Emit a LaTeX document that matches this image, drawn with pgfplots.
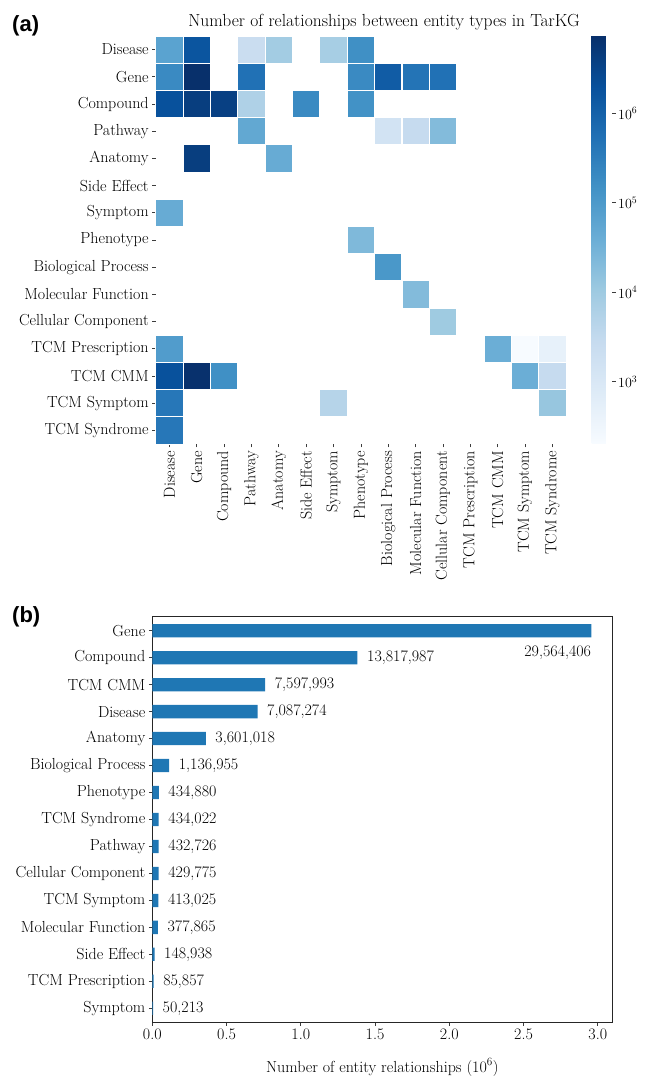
\documentclass[border=0pt]{standalone}
\usepackage{fontspec}
\usepackage{pgfplots}
\pgfplotsset{compat=1.18}
\usepackage{pgfplotstable}
\newfontfamily\panelfont{Liberation Sans}
\definecolor{tabblue}{RGB}{31,119,180}
\definecolor{tickgray}{RGB}{60,60,60}
\newcommand{\lblfont}{\fontsize{16bp}{19bp}\selectfont}
\newcommand{\cbfont}{\fontsize{14bp}{16bp}\selectfont}

\pgfplotstableread{
c r v
0 0 66000
1 0 1660000
3 0 2300
4 0 8900
6 0 7900
7 0 158000
0 1 200000
1 1 7310000
3 1 525000
7 1 200000
8 1 1260000
9 1 480000
10 1 525000
0 2 1950000
1 2 4270000
2 2 3890000
3 2 5900
5 2 200000
7 2 145000
3 3 52000
8 3 1500
9 3 2800
10 3 21000
1 4 4270000
4 4 44000
0 6 44000
7 7 23000
8 8 110000
9 9 21000
10 10 10000
0 11 89000
12 11 39000
13 11 205
14 11 480
0 12 1950000
1 12 7000000
2 12 158000
13 12 39000
14 12 2800
0 13 427000
6 13 4800
14 13 12600
0 14 427000
}\heat

\pgfplotstableread{
y n lab
0 29564406 29,564,406
1 13817987 13,817,987
2 7597993 7,597,993
3 7087274 7,087,274
4 3601018 3,601,018
5 1136955 1,136,955
6 434880 434,880
7 434022 434,022
8 432726 432,726
9 429775 429,775
10 413025 413,025
11 377865 377,865
12 148938 148,938
13 85857 85,857
14 50213 50,213
}\bars

\begin{document}
\begin{tikzpicture}
\path[use as bounding box] (0,0) rectangle (645bp,1076bp);

\begin{axis}[
  at={(155.7bp,1040bp)}, anchor=north west,
  scale only axis, width=410.3bp, height=408bp,
  xmin=-0.5, xmax=14.5, ymin=-0.5, ymax=14.5,
  y dir=reverse,
  axis line style={draw=none},
  tick align=outside, tick pos=left,
  major tick length=3.5bp,
  tick style={tickgray, line width=0.6bp},
  xtick={0,...,14}, ytick={0,...,14},
  xticklabels={Disease,Gene,Compound,Pathway,Anatomy,Side Effect,Symptom,Phenotype,Biological Process,Molecular Function,Cellular Component,TCM Prescription,TCM CMM,TCM Symptom,TCM Syndrome},
  yticklabels={Disease,Gene,Compound,Pathway,Anatomy,Side Effect,Symptom,Phenotype,Biological Process,Molecular Function,Cellular Component,TCM Prescription,TCM CMM,TCM Symptom,TCM Syndrome},
  xticklabel style={rotate=90, anchor=east, font=\lblfont},
  yticklabel style={font=\lblfont},
  colormap={blues}{rgb255=(247,251,255) rgb255=(222,235,247) rgb255=(198,219,239) rgb255=(158,202,225) rgb255=(107,174,214) rgb255=(66,146,198) rgb255=(33,113,181) rgb255=(8,81,156) rgb255=(8,48,107)},
  point meta min=2.312, point meta max=6.864,
  colorbar,
  colorbar style={
    at={(parent axis.north east)}, anchor=north west, xshift=17.2bp,
    scale only axis, width=20.3bp, height=407.3bp,
    axis line style={draw=none},
    ytick={3,4,5,6},
    yticklabels={10\textsuperscript{3},10\textsuperscript{4},10\textsuperscript{5},10\textsuperscript{6}},
    yticklabel style={font=\cbfont, inner sep=2.5bp},
    ytick pos=right, yticklabel pos=right,
    major tick length=3.5bp,
    tick style={tickgray, line width=0.6bp},
    tick align=outside,
  },
  clip=false,
]
\addplot[scatter, only marks, mark=square*, mark size=13.65bp,
  scatter/use mapped color={draw=white, fill=mapped color},
  mark options={line width=0.8bp},
  point meta={ln(\thisrow{v})/ln(10)}]
  table[x=c, y=r] {\heat};
\end{axis}

\node[font=\fontsize{17.5bp}{21bp}\selectfont, anchor=base] at (384bp,1049bp) {Number of relationships between entity types in TarKG};
\node[font=\panelfont\bfseries\fontsize{22bp}{26bp}\selectfont, anchor=base west, inner sep=0pt] at (12bp,1044.5bp) {(a)};
\node[font=\panelfont\bfseries\fontsize{22bp}{26bp}\selectfont, anchor=base west, inner sep=0pt] at (12bp,453bp) {(b)};

\begin{axis}[
  at={(152.3bp,459.3bp)}, anchor=north west,
  scale only axis, width=460bp, height=405.6bp,
  xmin=0, xmax=3.098, ymin=-0.52, ymax=14.52, y dir=reverse,
  tick align=outside, tick pos=left, major tick length=3.5bp,
  axis line style={line width=0.8bp, black!85},
  tick style={tickgray, line width=0.6bp},
  ytick={0,...,14},
  yticklabels={Gene,Compound,TCM CMM,Disease,Anatomy,Biological Process,Phenotype,TCM Syndrome,Pathway,Cellular Component,TCM Symptom,Molecular Function,Side Effect,TCM Prescription,Symptom},
  xtick={0,0.5,1,1.5,2,2.5,3},
  xticklabels={0.0,0.5,1.0,1.5,2.0,2.5,3.0},
  tick label style={font=\lblfont},
  xlabel={Number of entity relationships (10\textsuperscript{6})},
  xlabel style={at={(axis description cs:0.5,0)}, anchor=base, yshift=-49.7bp, font=\lblfont},
  clip=false,
]
\addplot[xbar, bar width=13.3bp, fill=tabblue, draw=none]
  table[x expr=\thisrow{n}/10000000, y=y] {\bars};
\addplot[draw=none, mark=none, nodes near coords, point meta=explicit symbolic,
  restrict y to domain=0.5:20,
  nodes near coords style={anchor=west, xshift=9.5bp, font=\lblfont, inner sep=0pt}]
  table[x expr=\thisrow{n}/10000000, y=y, meta=lab] {\bars};
\addplot[draw=none, mark=none, nodes near coords, point meta=explicit symbolic,
  restrict y to domain=-0.5:0.5,
  nodes near coords style={anchor=east, yshift=-22.3bp, font=\lblfont, inner sep=0pt}]
  table[x expr=\thisrow{n}/10000000, y=y, meta=lab] {\bars};
\end{axis}
\end{tikzpicture}
\end{document}
